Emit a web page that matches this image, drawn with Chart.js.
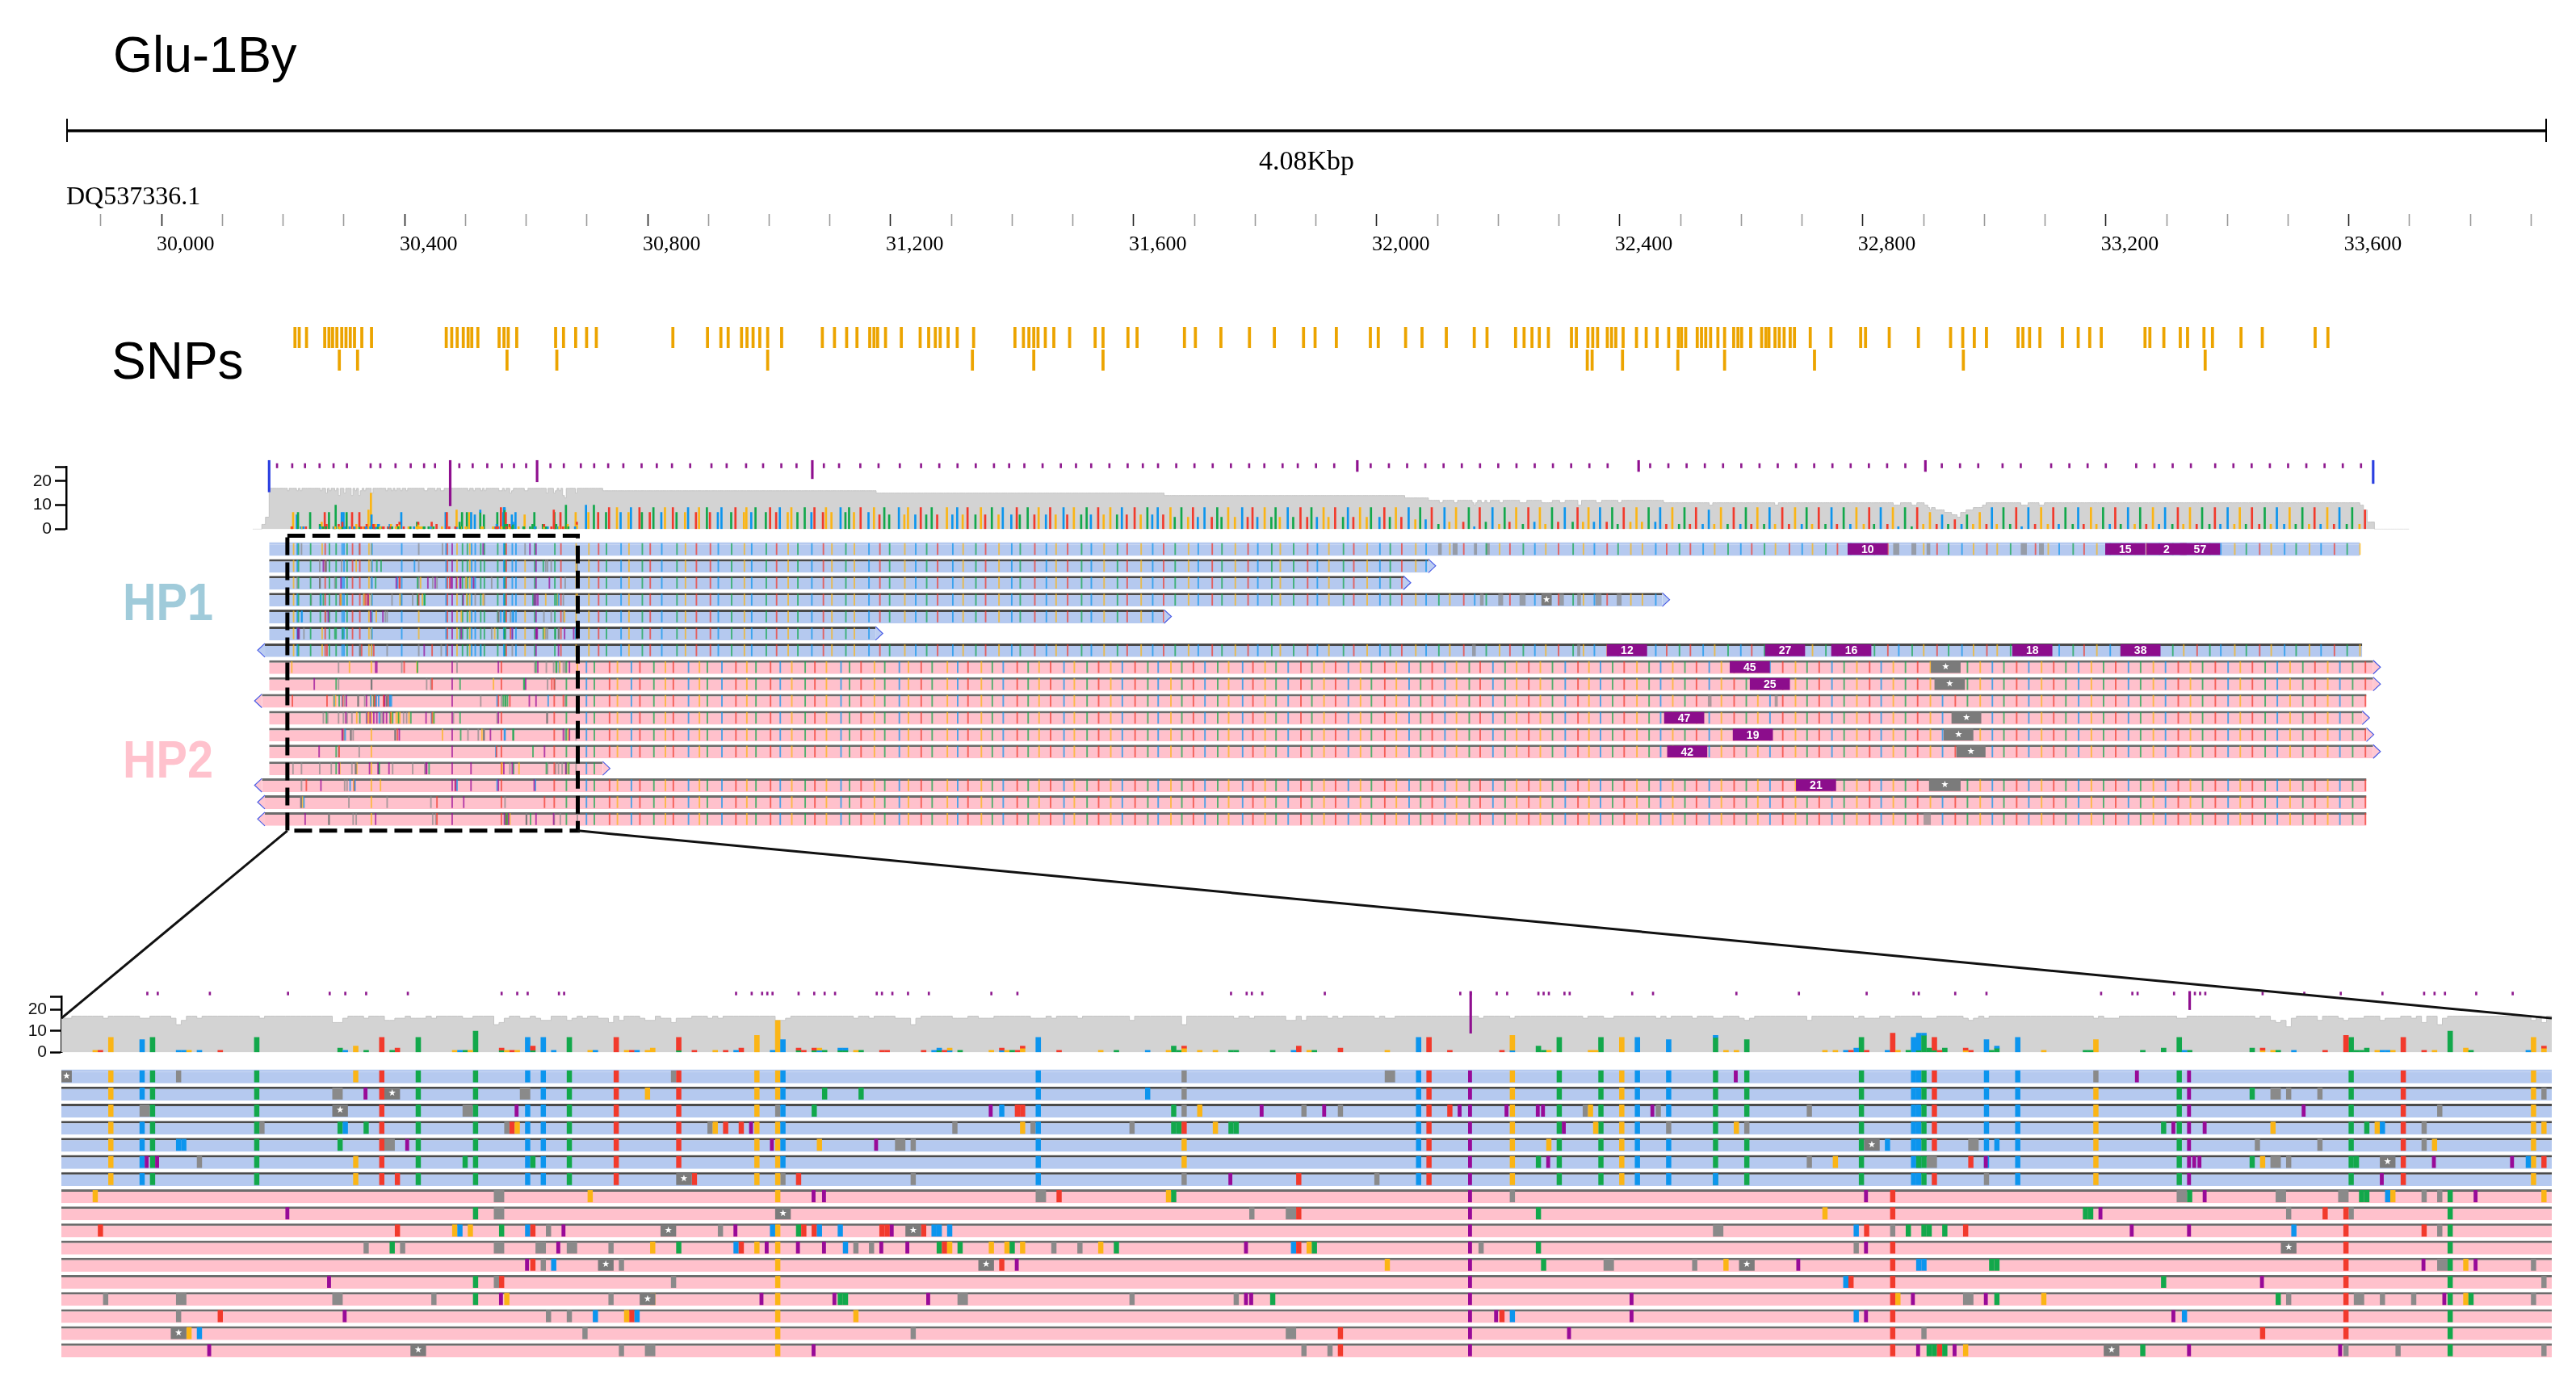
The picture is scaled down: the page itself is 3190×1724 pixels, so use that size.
<!DOCTYPE html>
<html>
<head>
<meta charset="utf-8">
<title>Glu-1By</title>
<script src="https://cdn.jsdelivr.net/npm/chart.js@4.4.1/dist/chart.umd.min.js"></script>
<style>
  html, body { margin: 0; padding: 0; background: #fff; }
  #page { position: relative; width: 3190px; height: 1724px; overflow: hidden; background: #fff; font-family: "Liberation Sans", Arial, sans-serif; }
  #page canvas { position: absolute; left: 0; }
  .lbl { position: absolute; line-height: 1; white-space: nowrap; color: #000; }
  .hp { font-size: 64px; font-weight: bold; transform: scaleX(0.9); transform-origin: 0 0; }
  #links { position: absolute; left: 0; top: 0; pointer-events: none; }
</style>
</head>
<body>
<div id="page">
  <div class="lbl" style="left:140px;top:36px;font-size:63px;">Glu-1By</div>
  <div class="lbl" style="left:138px;top:415px;font-size:64px;">SNPs</div>
  <div class="lbl hp" style="left:152px;top:714px;color:#A0CBDA;">HP1</div>
  <div class="lbl hp" style="left:152px;top:909px;color:#FFC2CD;">HP2</div>
  <canvas id="ruler" width="3190" height="200" style="top:130px"></canvas>
  <canvas id="snps" width="3190" height="75" style="top:395px"></canvas>
  <canvas id="covTop" width="3190" height="132" style="top:540px"></canvas>
  <canvas id="readsTop" width="3190" height="380" style="top:660px"></canvas>
  <canvas id="covZoom" width="3190" height="120" style="top:1200px"></canvas>
  <canvas id="readsZoom" width="3190" height="384" style="top:1316px"></canvas>
  <svg id="links" width="3190" height="1724"></svg>
</div>
<script>
// ---- ruler ----
const contigName = 'DQ537336.1';
const viewStart = 29843;
const viewEnd = 33926;
const rulerTicks = [29900,30000,30100,30200,30300,30400,30500,30600,30700,30800,30900,31000,31100,31200,31300,31400,31500,31600,31700,31800,31900,32000,32100,32200,32300,32400,32500,32600,32700,32800,32900,33000,33100,33200,33300,33400,33500,33600,33700,33800,33900];
const rulerMajor = [30000,30400,30800,31200,31600,32000,32400,32800,33200,33600];
const rulerLabels = ['30,000','30,400','30,800','31,200','31,600','32,000','32,400','32,800','33,200','33,600'];

// ---- SNP track (two rows) ----
const snpRow1 = [30217,30224,30236,30266,30273,30279,30286,30294,30301,30308,30315,30327,30343,30466,30475,30484,30494,30502,30508,30518,30553,30561,30568,30582,30646,30659,30679,30697,30713,30839,30896,30918,30930,30952,30961,30971,30982,30995,31018,31085,31105,31125,31142,31163,31170,31176,31189,31215,31246,31260,31271,31279,31292,31307,31334,31402,31416,31425,31433,31440,31452,31466,31492,31534,31547,31588,31603,31681,31699,31741,31788,31829,31877,31896,31931,31987,32000,32045,32072,32112,32158,32179,32226,32240,32253,32265,32280,32318,32326,32345,32353,32361,32377,32384,32391,32403,32425,32441,32459,32478,32494,32499,32506,32525,32532,32539,32547,32559,32570,32585,32592,32598,32613,32631,32638,32643,32653,32660,32668,32678,32685,32711,32745,32794,32802,32841,32889,32942,32962,32981,33001,33053,33061,33072,33089,33126,33152,33171,33190,33262,33270,33293,33320,33332,33359,33373,33420,33455,33542,33563];
const snpRow2 = [30290,30320,30566,30648,30995,31332,31433,31547,32344,32352,32402,32493,32570,32718,32963,33361];

// ---- zoomed window ----
const zoomStart = 30207;
const zoomEnd = 30685;

// ---- reads: HP1 (7) and HP2 (10) ----
const hp1Start = [30177,30177,30177,30177,30177,30177,30170];
const hp1End = [33618,32085,32044,32470,31650,31175,33622];
const hp1Strand = ['','+','+','+','+','+','-'];
const hp2Start = [30177,30177,30165,30177,30177,30177,30177,30165,30170,30170];
const hp2End = [33640,33640,33629,33622,33629,33640,30726,33629,33629,33629];
const hp2Strand = ['+','+','-','+','+','+','+','-','-','-'];

// haplotype variant sites inside the zoomed window
const hp1SitePos = [30216,30222,30224,30244,30268,30275,30286,30296,30299,30304,30313,30325,30340,30344,30345,30394,30467,30469,30477,30485,30494,30502,30506,30509,30515,30524,30530,30552,30562,30563,30564,30566,30576,30582,30597,30613,30615,30646,30656,30681];
const hp1SiteBase = 'GCAATAACCATTGGCCCTIGAAGCCAAACCATCCGAIATG';
const hp2SitePos = [30344,30477,30558,30645,30665];
const hp2SiteBase = 'GITTA';

// haplotype sites across the rest of the locus (estimated from the dense overview)
const hp1WidePos = [30702,30718,30731,30755,30768,30790,30803,30822,30847,30861,30879,30902,30915,30937,30958,30970,30994,31011,31030,31046,31069,31088,31102,31125,31139,31163,31181,31197,31222,31240,31258,31276,31301,31318,31339,31355,31377,31398,31412,31436,31455,31471,31490,31513,31529,31550,31572,31588,31611,31630,31648,31667,31689,31705,31728,31744,31766,31787,31803,31826,31840,31862,31885,31901,31920,31944,31961,31983,32004,32021,32040,32063,32080,32101,32119,32142,32160,32179,32201,32218,32240,32259,32277,32298,32322,32339,32357,32378,32396,32417,32436,32458,32476,32497,32515,32536,32555,32577,32598,32616,32637,32655,32678,32699,32716,32738,32757,32779,32801,32818,32840,32858,32880,32899,32921,32940,32962,32981,33003,33020,33042,33061,33083,33104,33122,33145,33163,33184,33206,33224,33247,33266,33287,33309,33327,33349,33370,33388,33411,33430,33452,33471,33493,33512,33534,33553,33575,33596,33617,33633];
const hp1WideBase = 'GTACGATCAGTTCAGCATGACTGAGCTAGCATCGATGCATCGTACGATGCTAGCTAGTCAGATCGATGCATGCAGTCAGTACGTAGCTAGGCTATCGACTAGTCGATCGATCAGTACGTGACTGCATGCAGTCAGTACGATGCAGCTAGT';
const hp2WidePos = [30698,30711,30736,30749,30772,30786,30809,30828,30841,30866,30884,30897,30921,30944,30962,30977,31001,31017,31036,31058,31074,31093,31117,31131,31150,31172,31189,31213,31228,31249,31267,31292,31309,31326,31348,31366,31384,31407,31425,31443,31462,31484,31501,31522,31541,31561,31580,31601,31622,31639,31660,31678,31697,31716,31737,31755,31778,31795,31815,31833,31853,31874,31892,31912,31931,31952,31972,31990,32012,32031,32052,32071,32090,32111,32130,32151,32169,32190,32210,32229,32249,32268,32288,32309,32330,32348,32367,32387,32406,32427,32447,32466,32486,32506,32525,32546,32566,32587,32607,32626,32646,32667,32688,32707,32727,32748,32768,32789,32810,32829,32849,32869,32889,32910,32930,32951,32971,32992,33012,33031,33052,33072,33093,33113,33133,33154,33175,33195,33215,33236,33256,33277,33297,33318,33338,33358,33379,33400,33420,33440,33461,33481,33502,33523,33543,33564,33584,33605,33626];
const hp2WideBase = 'CATGCTAGTCGACTGATCGATGCATGACGTAGCTGACTAGTCGATGCTACGATCAGCTGACTAGTCGATGCATCGATCAGTGACTGCATGACGATCGTAGCTGATCAGTCGATGCTAGCATCGTACGATCAGCTGATCGTACGATGCATG';

// per-read marks: [position, A/C/G/T mismatch | D deletion | S starred deletion | I insertion, length]
const hp1Marks = [
  [[30207,'S',2],[30229,'D'],[30263,'G'],[30324,'D'],[30422,'D'],[30461,'D',2],[30528,'I'],[30597,'D'],[30605,'I'],[32101,'D',6],[32125,'D',8],[32160,'D',5],[32180,'D',6],[32850,'D',10],[32880,'D',8],[32905,'D',6],[33060,'D',10],[33090,'D',8]],
  [[30259,'D',2],[30265,'I'],[30269,'S',3],[30295,'D',2],[30319,'G'],[30353,'A'],[30360,'A'],[30415,'C'],[30422,'D'],[30627,'A'],[30631,'D',2],[30634,'D'],[30640,'D'],[30683,'D']],
  [[30222,'D',2],[30259,'S',3],[30284,'D',2],[30294,'I'],[30344,'D'],[30351,'A'],[30385,'I'],[30387,'C'],[30390,'T'],[30391,'T'],[30420,'A'],[30422,'D'],[30425,'G'],[30437,'I'],[30445,'D'],[30449,'I'],[30452,'D'],[30473,'T'],[30475,'I'],[30484,'I'],[30490,'I'],[30491,'I'],[30499,'D'],[30500,'G'],[30512,'I'],[30513,'D'],[30542,'D'],[30637,'I'],[30663,'D']],
  [[30245,'D'],[30260,'A'],[30261,'C'],[30265,'A'],[30292,'D'],[30293,'T'],[30294,'G'],[30331,'D'],[30332,'G'],[30334,'T'],[30337,'T'],[30339,'I'],[30378,'D'],[30391,'G'],[30393,'D'],[30412,'D'],[30420,'A'],[30421,'A'],[30422,'T'],[30428,'G'],[30431,'A'],[30432,'A'],[30495,'I'],[30501,'G'],[30515,'D'],[30528,'G'],[30530,'D'],[30610,'A'],[30612,'I'],[30618,'I'],[30631,'G'],[30649,'A'],[30651,'G'],[30652,'C'],[30660,'D'],[30683,'G'],[32170,'D',6],[32200,'D',8],[32235,'D',10],[32271,'S',17],[32300,'D',8],[32330,'D',6],[32360,'D',10],[32395,'D',8]],
  [[30229,'C'],[30230,'C'],[30260,'A'],[30269,'D',2],[30273,'I'],[30343,'I'],[30352,'G'],[30363,'I'],[30367,'D',2],[30370,'D'],[30422,'G'],[30492,'G'],[30553,'S',3],[30557,'C'],[30573,'D',2],[30578,'C'],[30628,'D'],[30640,'D'],[30660,'D'],[30662,'G']],
  [[30223,'I'],[30225,'I'],[30233,'D'],[30263,'G'],[30284,'A'],[30297,'A'],[30422,'G'],[30490,'A'],[30492,'I'],[30542,'D'],[30547,'G'],[30563,'A'],[30565,'D',2],[30573,'T'],[30576,'I'],[30616,'I'],[30617,'I'],[30627,'A'],[30629,'G'],[30631,'D',2],[30634,'D'],[30647,'A'],[30652,'S',3],[30662,'I'],[30677,'I'],[30680,'C'],[30683,'T']],
  [[30263,'G'],[30271,'T'],[30325,'S',3],[30328,'T'],[30345,'D'],[30348,'T'],[30370,'D'],[30422,'D'],[30431,'I'],[30444,'T'],[30459,'D'],[30524,'C'],[30576,'D'],[30652,'I'],[32157,'D',6],[32330,'D',5]]
];
const hp2Marks = [
  [[30213,'G'],[30290,'D',2],[30308,'G'],[30351,'I'],[30353,'I'],[30394,'D',2],[30398,'T'],[30419,'G'],[30420,'A'],[30485,'D'],[30553,'I'],[30613,'D',2],[30615,'A'],[30618,'I'],[30632,'D',2],[30644,'D',2],[30648,'A'],[30649,'A'],[30653,'C'],[30654,'G'],[30660,'D'],[30663,'D'],[30670,'I'],[30683,'G'],[32912,'S',49]],
  [[30250,'I'],[30286,'A'],[30290,'D',2],[30344,'S',3],[30435,'D'],[30442,'D',2],[30444,'T'],[30490,'A'],[30545,'G'],[30595,'A'],[30596,'A'],[30598,'I'],[30634,'D'],[30641,'T'],[30646,'D'],[32918,'S',50]],
  [[30214,'T'],[30271,'T'],[30282,'G'],[30283,'C'],[30285,'G'],[30291,'A'],[30296,'C'],[30297,'T'],[30300,'D'],[30303,'I'],[30322,'S',3],[30333,'D'],[30336,'I'],[30343,'C'],[30348,'A'],[30349,'T'],[30351,'T'],[30352,'C'],[30356,'C'],[30364,'T'],[30365,'T'],[30366,'I'],[30369,'S',3],[30372,'T'],[30374,'C'],[30375,'C'],[30377,'C'],[30524,'D',2],[30551,'C'],[30553,'T'],[30558,'D'],[30561,'A'],[30564,'A'],[30565,'A'],[30568,'A'],[30572,'T'],[30604,'I'],[30615,'I'],[30635,'C'],[30660,'T'],[30663,'D'],[32545,'D',6],[32655,'D',5]],
  [[30265,'D'],[30270,'A'],[30272,'D'],[30290,'D',2],[30298,'D',2],[30302,'I'],[30304,'D',2],[30312,'D'],[30320,'G'],[30325,'A'],[30336,'C'],[30337,'T'],[30340,'G'],[30342,'I'],[30348,'I'],[30353,'I'],[30357,'C'],[30359,'D'],[30362,'D'],[30364,'I'],[30369,'I'],[30375,'A'],[30376,'T'],[30377,'G'],[30379,'A'],[30385,'G'],[30388,'G'],[30389,'A'],[30391,'G'],[30397,'D'],[30402,'D'],[30406,'G'],[30409,'A'],[30434,'I'],[30443,'C'],[30444,'T'],[30446,'G'],[30447,'A'],[30479,'D'],[30490,'A'],[30551,'D'],[30553,'I'],[30633,'S',3],[32946,'S',49]],
  [[30296,'I'],[30297,'T'],[30299,'D'],[30301,'C'],[30310,'S',3],[30314,'D'],[30383,'S',3],[30387,'T'],[30390,'I'],[30461,'G'],[30491,'A'],[30503,'D',2],[30520,'D'],[30526,'G'],[30529,'S',3],[30540,'I'],[30563,'C'],[30564,'C'],[30577,'A'],[30578,'A'],[30660,'I'],[30663,'D',2],[30668,'G'],[30670,'I'],[30681,'D'],[32933,'S',49]],
  [[30258,'I'],[30286,'A'],[30290,'D'],[30291,'T'],[30324,'D'],[30549,'C'],[30550,'T'],[30610,'A'],[30629,'I'],[30683,'D'],[32954,'S',48]],
  [[30215,'D'],[30229,'D',2],[30259,'D',2],[30278,'D'],[30286,'A'],[30291,'I'],[30292,'G'],[30312,'D'],[30318,'S',3],[30320,'G'],[30341,'I'],[30355,'I'],[30356,'A'],[30357,'A'],[30373,'I'],[30379,'D',2],[30412,'D'],[30432,'D'],[30434,'I'],[30435,'I'],[30439,'A'],[30508,'I'],[30559,'G'],[30562,'I'],[30572,'D',2],[30576,'I'],[30578,'A'],[30587,'G'],[30632,'A'],[30634,'D'],[30647,'D',2],[30652,'D'],[30658,'D'],[30664,'I'],[30668,'G'],[30669,'A'],[30681,'D']],
  [[30229,'D'],[30237,'T'],[30261,'I'],[30300,'D'],[30304,'D'],[30309,'C'],[30315,'G'],[30316,'T'],[30317,'C'],[30359,'G'],[30482,'I'],[30483,'T'],[30485,'C'],[30508,'I'],[30551,'C'],[30553,'I'],[30612,'I'],[30614,'C'],[32909,'S',52]],
  [[30228,'S',3],[30231,'G'],[30233,'C'],[30307,'D'],[30370,'D'],[30442,'D',2],[30452,'T'],[30496,'I'],[30564,'D'],[30629,'T']],
  [[30235,'I'],[30274,'S',3],[30314,'D'],[30319,'D',2],[30351,'I'],[30445,'D'],[30450,'D'],[30452,'T'],[30563,'I'],[30565,'A'],[30566,'A'],[30567,'T'],[30568,'A'],[30570,'I'],[30572,'G'],[30599,'S',3],[30606,'A'],[30615,'I'],[30644,'I'],[30645,'D'],[30655,'D'],[30683,'D'],[32900,'D',12]]
];

// large insertions shown as labelled boxes in the overview (row = read index 0..16)
const boxRow = [0,0,0,0,6,6,6,6,6,7,8,10,11,12,14];
const boxPos = [32775,33199,33267,33322,32379,32639,32748,33046,33224,32581,32614,32473,32586,32478,32690];
const boxText = ['10','15','2','57','12','27','16','18','38','45','25','47','19','42','21'];

// insertion track above the coverage
const topInsTicks = [30190,30215,30236,30260,30283,30305,30344,30360,30385,30410,30432,30450,30490,30512,30536,30560,30580,30600,30640,30662,30690,30712,30735,30760,30790,30815,30840,30870,30905,30930,30962,30990,31020,31045,31090,31115,31150,31180,31215,31250,31280,31310,31340,31370,31395,31420,31450,31480,31505,31530,31560,31590,31615,31640,31670,31700,31730,31760,31790,31815,31845,31870,31900,31930,31990,32020,32050,32080,32110,32140,32170,32200,32230,32260,32290,32320,32350,32380,32450,32480,32510,32540,32570,32600,32630,32660,32690,32720,32750,32780,32810,32840,32870,32930,32960,32990,33030,33060,33110,33140,33170,33200,33250,33280,33310,33340,33380,33410,33440,33470,33500,33530,33560,33590,33620];
const topTriPos = [30177,30475,30618,31071,31968,32431,32903,33640];
const topTriDepth = [15.5,9.7,19.7,21,24,24,24,19];
const zoomTriPos = [30477,30615];
const zoomTriDepth = [9,20];

// ---------- styling ----------
const BASE_COLORS = { A: '#12a84b', C: '#0c95ee', G: '#fbb515', T: '#f23a2c', I: '#980a98', D: '#8a8a8a', S: '#7b7b7b' };
const HAP_FILL = { 1: '#b5c9ef', 2: '#ffc1cc' };
const HAP_EDGE = { 1: '#4a4a4a', 2: '#6c6c6c' };
const BOX_BP = 66;

function rgba(hex, a) {
  const n = parseInt(hex.slice(1), 16);
  return 'rgba(' + (n >> 16) + ',' + ((n >> 8) & 255) + ',' + (n & 255) + ',' + a + ')';
}

// ---------- assemble reads ----------
const reads = [];
hp1Start.forEach((s, i) => reads.push({ hap: 1, start: s, end: hp1End[i], strand: hp1Strand[i], extra: hp1Marks[i] }));
hp2Start.forEach((s, i) => reads.push({ hap: 2, start: s, end: hp2End[i], strand: hp2Strand[i], extra: hp2Marks[i] }));
const rowNames = reads.map((r, i) => 'read' + (i + 1));

const sitesOf = {
  1: hp1SitePos.map((p, i) => [p, hp1SiteBase[i]]).concat(hp1WidePos.map((p, i) => [p, hp1WideBase[i]])),
  2: hp2SitePos.map((p, i) => [p, hp2SiteBase[i]]).concat(hp2WidePos.map((p, i) => [p, hp2WideBase[i]]))
};

reads.forEach(r => {
  const extra = r.extra.map(m => ({ pos: m[0], code: m[1], len: m[2] || 1 }));
  r.dels = extra.filter(m => m.code === 'D' || m.code === 'S').map(m => [m.pos, m.pos + m.len]);
  const inDel = p => r.dels.some(d => p >= d[0] && p < d[1]);
  r.marks = [];
  sitesOf[r.hap].forEach(([p, c]) => {
    if (c && p >= r.start && p < r.end && !inDel(p)) r.marks.push({ pos: p, code: c, len: 1 });
  });
  r.marks = r.marks.concat(extra);
});

function depthAt(p) {
  let n = 0;
  for (const r of reads) {
    if (p < r.start || p >= r.end) continue;
    if (r.dels.some(d => p >= d[0] && p < d[1])) continue;
    n++;
  }
  return n;
}
function coverageSeries(from, to, step) {
  const out = [];
  for (let p = from; p <= to; p += step) out.push({ x: p, y: depthAt(p) });
  return out;
}
function spikeSeries(from, to) {
  const tally = new Map();
  reads.forEach(r => r.marks.forEach(m => {
    if ('ACGT'.indexOf(m.code) < 0 || m.pos < from || m.pos > to) return;
    const t = tally.get(m.pos) || { A: 0, C: 0, G: 0, T: 0 };
    t[m.code]++;
    tally.set(m.pos, t);
  }));
  const out = [];
  tally.forEach((t, p) => {
    let y0 = 0;
    ['A', 'C', 'G', 'T'].forEach(b => {
      if (t[b]) { out.push({ x: p + 0.5, y: [y0, y0 + t[b]], code: b }); y0 += t[b]; }
    });
  });
  return out;
}
function insertionPositions(from, to) {
  const set = new Set();
  reads.forEach(r => r.marks.forEach(m => { if (m.code === 'I' && m.pos >= from && m.pos <= to) set.add(m.pos); }));
  return Array.from(set);
}

const baseOpts = {
  responsive: false,
  animation: false,
  events: [],
  plugins: { legend: { display: false }, tooltip: { enabled: false } }
};

// ---------- ruler ----------
const rulerDecor = {
  id: 'rulerDecor',
  afterDraw(chart) {
    const c = chart.ctx, xs = chart.scales.x;
    const a = xs.getPixelForValue(viewStart), b = xs.getPixelForValue(viewEnd);
    c.save();
    c.strokeStyle = '#000';
    c.lineWidth = 3.5;
    c.beginPath(); c.moveTo(a, 32); c.lineTo(b, 32); c.stroke();
    c.lineWidth = 2;
    c.beginPath(); c.moveTo(a + 1, 17); c.lineTo(a + 1, 46); c.moveTo(b - 1, 17); c.lineTo(b - 1, 46); c.stroke();
    c.fillStyle = '#000';
    c.textBaseline = 'alphabetic';
    c.font = '34px "Liberation Serif"';
    c.textAlign = 'center';
    c.fillText(((viewEnd - viewStart) / 1000).toFixed(2) + 'Kbp', (a + b) / 2, 80);
    c.font = '32px "Liberation Serif"';
    c.textAlign = 'left';
    c.fillText(contigName, a, 123);
    c.restore();
  }
};
new Chart(document.getElementById('ruler'), {
  type: 'bar',
  data: { datasets: [] },
  options: Object.assign({}, baseOpts, {
    layout: { padding: { left: 82, right: 36, top: 0, bottom: 0 } },
    scales: {
      x: {
        type: 'linear', position: 'bottom', min: viewStart, max: viewEnd, offset: false,
        afterBuildTicks: s => { s.ticks = rulerTicks.map(v => ({ value: v })); },
        afterFit: s => { s.height = 65; },
        border: { display: false },
        grid: {
          offset: false, drawOnChartArea: false, drawTicks: true, tickLength: 15, tickWidth: 1.6,
          tickColor: ctx => (ctx.tick && rulerMajor.indexOf(ctx.tick.value) >= 0) ? '#222' : '#9a9a9a'
        },
        ticks: {
          autoSkip: false, maxRotation: 0, minRotation: 0, align: 'start', labelOffset: -6, padding: 8,
          color: '#000', font: { family: 'Liberation Serif', size: 26 },
          callback: v => { const k = rulerMajor.indexOf(v); return k < 0 ? '' : rulerLabels[k]; }
        }
      },
      y: { display: false }
    }
  }),
  plugins: [rulerDecor]
});

// ---------- SNPs ----------
const snpData = snpRow1.map(p => ({ y: 'snp1', x: [p, p + 5] })).concat(snpRow2.map(p => ({ y: 'snp2', x: [p, p + 5] })));
new Chart(document.getElementById('snps'), {
  type: 'bar',
  data: {
    labels: ['snp1', 'snp2'],
    datasets: [{ data: snpData, backgroundColor: '#eca400', barPercentage: 0.93, categoryPercentage: 1, grouped: false }]
  },
  options: Object.assign({}, baseOpts, {
    indexAxis: 'y',
    layout: { padding: { left: 82, right: 36, top: 9, bottom: 10 } },
    scales: {
      x: { type: 'linear', min: viewStart, max: viewEnd, display: false, offset: false },
      y: { type: 'category', display: false, offset: true }
    }
  })
});

// ---------- coverage charts ----------
function makeCoverageChart(id, x0, x1, axisW, pad, cov, spikes, spikeW, insTicks, tickRange, tris, triDepth) {
  const triColor = i => (tris.length > 2 && (i === 0 || i === tris.length - 1)) ? '#2b3fe0' : '#8f0f8f';
  return new Chart(document.getElementById(id), {
    type: 'bar',
    data: {
      datasets: [
        { type: 'line', data: cov, stepped: true, fill: 'origin', backgroundColor: '#d3d3d3', borderColor: '#c4c4c4', borderWidth: 1, pointRadius: 0, order: 5 },
        { type: 'bar', data: spikes, backgroundColor: ctx => ctx.raw ? BASE_COLORS[ctx.raw.code] : '#999', barThickness: spikeW, grouped: false, order: 3 },
        { type: 'bar', data: insTicks.map(p => ({ x: p, y: tickRange })), backgroundColor: '#8f1a8f', barThickness: 2, grouped: false, clip: false, order: 2 },
        { type: 'bar', data: tris.map((p, i) => ({ x: p, y: [triDepth[i], 28.6] })), backgroundColor: ctx => triColor(ctx.dataIndex || 0), barThickness: 2.5, grouped: false, clip: false, order: 1 },
        { type: 'line', data: tris.map(p => ({ x: p, y: 29.3 })), showLine: false, pointStyle: 'triangle', rotation: 180, pointRadius: 7, borderWidth: 0,
          backgroundColor: ctx => triColor(ctx.dataIndex || 0), clip: false, order: 0 }
      ]
    },
    options: Object.assign({}, baseOpts, {
      layout: { padding: pad },
      scales: {
        x: { type: 'linear', min: x0, max: x1, display: false, offset: false },
        y: {
          min: 0, max: 26,
          afterBuildTicks: s => { s.ticks = [0, 10, 20, 26].map(v => ({ value: v })); },
          afterFit: s => { s.width = axisW; },
          border: { display: true, color: '#000', width: 2.5 },
          grid: { drawOnChartArea: false, drawTicks: true, tickLength: 14, tickColor: '#000', tickWidth: 2.5 },
          ticks: { autoSkip: false, padding: 4, color: '#111', font: { family: 'Liberation Sans', size: 21 }, callback: v => v === 26 ? '' : String(v) }
        }
      }
    })
  });
}

makeCoverageChart('covTop', viewStart, viewEnd, 82, { left: 0, right: 36, top: 38, bottom: 12 },
  coverageSeries(30150, 33700, 3), spikeSeries(viewStart, viewEnd), 2,
  topInsTicks, [25.5, 27.3], topTriPos, topTriDepth);

const covZoom = makeCoverageChart('covZoom', zoomStart, zoomEnd, 76, { left: 0, right: 30, top: 34.7, bottom: 6 },
  coverageSeries(30195, 30700, 1), spikeSeries(zoomStart - 2, zoomEnd + 2), 6,
  insertionPositions(zoomStart, zoomEnd).map(p => p + 0.5), [26.9, 28.3], zoomTriPos.map(p => p + 0.5), zoomTriDepth);

// ---------- read charts ----------
function makeReadsDecor(boxLabels, dashed) {
  return {
    id: 'readsDecor',
    afterDatasetsDraw(chart) {
      const c = chart.ctx, ca = chart.chartArea;
      c.save();
      c.beginPath(); c.rect(ca.left - 14, ca.top - 2, ca.right - ca.left + 28, ca.bottom - ca.top + 4); c.clip();
      // strand tips
      chart.getDatasetMeta(0).data.forEach((el, i) => {
        const r = reads[i];
        if (!r.strand) return;
        const p = el.getProps(['x', 'base', 'y', 'height'], true);
        const left = Math.min(p.x, p.base), right = Math.max(p.x, p.base), h = p.height / 2;
        c.beginPath();
        if (r.strand === '+') {
          if (right > ca.right - 1) return;
          c.moveTo(right, p.y - h); c.lineTo(right + 9, p.y); c.lineTo(right, p.y + h);
        } else {
          if (left < ca.left + 1) return;
          c.moveTo(left, p.y - h); c.lineTo(left - 9, p.y); c.lineTo(left, p.y + h);
        }
        c.fillStyle = rgba(HAP_FILL[r.hap], 0.9); c.fill();
        c.strokeStyle = '#4a5de6'; c.lineWidth = 1.2; c.stroke();
      });
      // starred deletions
      const meta = chart.getDatasetMeta(1);
      const ds = chart.data.datasets[1].data;
      c.fillStyle = '#fff'; c.font = '11px "DejaVu Sans"'; c.textAlign = 'center'; c.textBaseline = 'middle';
      meta.data.forEach((el, i) => {
        if (ds[i].code !== 'S') return;
        const p = el.getProps(['x', 'base', 'y'], true);
        if (Math.abs(p.x - p.base) < 9) return;
        c.fillText('\u2605', (p.x + p.base) / 2, p.y);
      });
      // insertion size labels
      if (boxLabels && chart.data.datasets[2]) {
        c.font = 'bold 14px "Liberation Sans"';
        chart.getDatasetMeta(2).data.forEach((el, i) => {
          const p = el.getProps(['x', 'base', 'y'], true);
          c.fillText(chart.data.datasets[2].data[i].text, (p.x + p.base) / 2, p.y + 1);
        });
      }
      c.restore();
      if (dashed) {
        const xs = chart.scales.x;
        const L = xs.getPixelForValue(zoomStart), R = xs.getPixelForValue(zoomEnd);
        c.save();
        c.strokeStyle = '#000'; c.lineWidth = 5; c.setLineDash([22, 9]);
        c.strokeRect(L, ca.top - 6, R - L, ca.bottom - ca.top + 10);
        c.restore();
      }
    }
  };
}

function makeReadsChart(id, x0, x1, pad, minLen, insLen, markAlpha, withBoxes) {
  const prio = { D: 0, A: 1, C: 1, G: 1, T: 1, I: 2, S: 3 };
  const marks = [];
  reads.forEach((r, i) => r.marks.forEach(m => {
    const w = m.code === 'I' ? insLen : Math.max(m.len, minLen);
    if (m.pos + w < x0 || m.pos > x1) return;
    marks.push({ y: rowNames[i], x: [m.pos, m.pos + w], code: m.code });
  }));
  marks.sort((a, b) => prio[a.code] - prio[b.code]);
  const datasets = [
    {
      data: reads.map((r, i) => ({ y: rowNames[i], x: [r.start, r.end] })),
      backgroundColor: ctx => reads[ctx.dataIndex] ? HAP_FILL[reads[ctx.dataIndex].hap] : '#ccc',
      borderColor: ctx => reads[ctx.dataIndex] ? (ctx.dataIndex === 0 ? HAP_FILL[1] : HAP_EDGE[reads[ctx.dataIndex].hap]) : '#555',
      borderWidth: { top: 3, right: 0, bottom: 0, left: 0 },
      borderSkipped: false, barPercentage: 0.81, categoryPercentage: 1, grouped: false, order: 3
    },
    {
      data: marks,
      backgroundColor: ctx => ctx.raw ? rgba(BASE_COLORS[ctx.raw.code], ctx.raw.code === 'S' ? 1 : markAlpha) : '#999',
      barPercentage: 0.7, categoryPercentage: 1, grouped: false, order: 2
    }
  ];
  if (withBoxes) {
    datasets.push({
      data: boxPos.map((p, i) => ({ y: rowNames[boxRow[i]], x: [p, p + BOX_BP], text: boxText[i] })),
      backgroundColor: '#8c0d8c', barPercentage: 0.7, categoryPercentage: 1, grouped: false, order: 1
    });
  }
  return new Chart(document.getElementById(id), {
    type: 'bar',
    data: { labels: rowNames, datasets: datasets },
    options: Object.assign({}, baseOpts, {
      indexAxis: 'y',
      layout: { padding: pad },
      scales: {
        x: { type: 'linear', min: x0, max: x1, display: false, offset: false },
        y: { type: 'category', display: false, offset: true }
      }
    }),
    plugins: [makeReadsDecor(withBoxes, withBoxes)]
  });
}

const readsTop = makeReadsChart('readsTop', viewStart, viewEnd, { left: 82, right: 36, top: 9.5, bottom: 15.2 }, 2.5, 2.5, 0.72, true);
makeReadsChart('readsZoom', zoomStart, zoomEnd, { left: 76, right: 30, top: 6.5, bottom: 17 }, 1, 0.75, 1, false);

// ---------- zoom connectors ----------
(function () {
  const topCanvas = document.getElementById('readsTop');
  const zoomCanvas = document.getElementById('covZoom');
  const xs = readsTop.scales.x, ca = readsTop.chartArea;
  const L = xs.getPixelForValue(zoomStart), R = xs.getPixelForValue(zoomEnd);
  const yTop = topCanvas.offsetTop + ca.bottom + 4;
  const zca = covZoom.chartArea;
  const yBot = zoomCanvas.offsetTop + covZoom.scales.y.getPixelForValue(16);
  const svg = document.getElementById('links');
  [[L, zca.left], [R, zca.right]].forEach(([a, b]) => {
    const ln = document.createElementNS('http://www.w3.org/2000/svg', 'line');
    ln.setAttribute('x1', a); ln.setAttribute('y1', yTop);
    ln.setAttribute('x2', b); ln.setAttribute('y2', yBot);
    ln.setAttribute('stroke', '#111'); ln.setAttribute('stroke-width', '3');
    svg.appendChild(ln);
  });
})();
</script>
</body>
</html>
